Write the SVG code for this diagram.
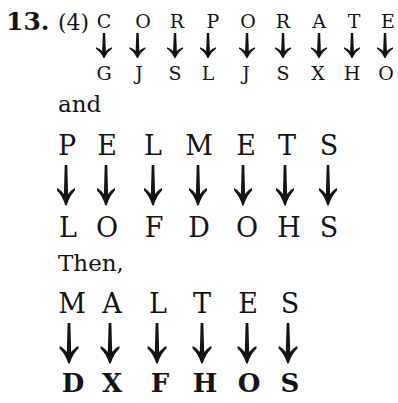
<svg xmlns="http://www.w3.org/2000/svg" width="398" height="403" viewBox="0 0 398 403">
<style>
text{font-family:"DejaVu Serif","Liberation Serif",serif;fill:#141414;text-anchor:middle}
.s{font-size:19px}
.l{font-size:27px}
.b{font-size:26px;font-weight:bold}
.w{font-size:23px;text-anchor:start}
.arr{fill:#141414;stroke:none}
</style>
<defs>
<path id="a" class="arr" d="M-1.3,0H1.3L2.1,29C4,26.5 6.5,24 9,23L9,25.5C5.8,28.5 2.8,33.5 0.6,40.5H-0.6C-2.8,33.5 -5.8,28.5 -9,25.5L-9,23C-6.5,24 -4,26.5 -2.1,29Z"/>
</defs>
<rect width="398" height="403" fill="#fff"/>
<g id="label">
<text x="6" y="30" style="font-size:25px;font-weight:bold;text-anchor:start">13.</text>
<text x="58" y="30" style="font-size:22px;text-anchor:start">(4)</text>
</g>
<g id="row1-top">
<text class="s" x="104" y="28">C</text>
<text class="s" x="143" y="28">O</text>
<text class="s" x="177" y="28">R</text>
<text class="s" x="213" y="28">P</text>
<text class="s" x="248" y="28">O</text>
<text class="s" x="283" y="28">R</text>
<text class="s" x="319" y="28">A</text>
<text class="s" x="354" y="28">T</text>
<text class="s" x="388" y="28">E</text>
</g>
<g id="row1-bottom">
<text class="s" x="104" y="80">G</text>
<text class="s" x="139" y="80">J</text>
<text class="s" x="175" y="80">S</text>
<text class="s" x="208" y="80">L</text>
<text class="s" x="246" y="80">J</text>
<text class="s" x="283" y="80">S</text>
<text class="s" x="318" y="80">X</text>
<text class="s" x="352" y="80">H</text>
<text class="s" x="386" y="80">O</text>
</g>
<g id="and"><text class="w" x="58" y="112">and</text></g>
<g id="row2-top">
<text class="l" x="67" y="155">P</text>
<text class="l" x="107" y="155">E</text>
<text class="l" x="153" y="155">L</text>
<text class="l" x="199" y="155">M</text>
<text class="l" x="246" y="155">E</text>
<text class="l" x="287" y="155">T</text>
<text class="l" x="329" y="155">S</text>
</g>
<g id="row2-bottom">
<text class="l" x="68" y="237">L</text>
<text class="l" x="107" y="237">O</text>
<text class="l" x="154" y="237">F</text>
<text class="l" x="199" y="237">D</text>
<text class="l" x="247" y="237">O</text>
<text class="l" x="289" y="237">H</text>
<text class="l" x="329" y="237">S</text>
</g>
<g id="then"><text class="w" x="58" y="271">Then,</text></g>
<g id="row3-top">
<text class="l" x="72" y="313">M</text>
<text class="l" x="112" y="313">A</text>
<text class="l" x="158" y="313">L</text>
<text class="l" x="202" y="313">T</text>
<text class="l" x="248" y="313">E</text>
<text class="l" x="290" y="313">S</text>
</g>
<g id="row3-bottom">
<text class="b" x="73" y="392">D</text>
<text class="b" x="112" y="392">X</text>
<text class="b" x="160" y="392">F</text>
<text class="b" x="205" y="392">H</text>
<text class="b" x="249" y="392">O</text>
<text class="b" x="290" y="392">S</text>
</g>
<g id="connectors">
<use href="#a" transform="translate(104,33) scale(0.89,0.62)"/>
<use href="#a" transform="translate(137.5,33) scale(0.89,0.62)"/>
<use href="#a" transform="translate(175,33) scale(0.89,0.62)"/>
<use href="#a" transform="translate(208,33) scale(0.89,0.62)"/>
<use href="#a" transform="translate(247,33) scale(0.89,0.62)"/>
<use href="#a" transform="translate(283,33) scale(0.89,0.62)"/>
<use href="#a" transform="translate(319,33) scale(0.89,0.62)"/>
<use href="#a" transform="translate(352,33) scale(0.89,0.62)"/>
<use href="#a" transform="translate(385,33) scale(0.89,0.62)"/>
<use href="#a" transform="translate(66,165)"/>
<use href="#a" transform="translate(106,165)"/>
<use href="#a" transform="translate(153,165)"/>
<use href="#a" transform="translate(198,165)"/>
<use href="#a" transform="translate(243,165)"/>
<use href="#a" transform="translate(285,165)"/>
<use href="#a" transform="translate(328,165)"/>
<use href="#a" transform="translate(69,323) scale(1.05,1)"/>
<use href="#a" transform="translate(110,323) scale(1.05,1)"/>
<use href="#a" transform="translate(157,323) scale(1.05,1)"/>
<use href="#a" transform="translate(202,323) scale(1.05,1)"/>
<use href="#a" transform="translate(247,323) scale(1.05,1)"/>
<use href="#a" transform="translate(288,323) scale(1.05,1)"/>
</g>
</svg>
